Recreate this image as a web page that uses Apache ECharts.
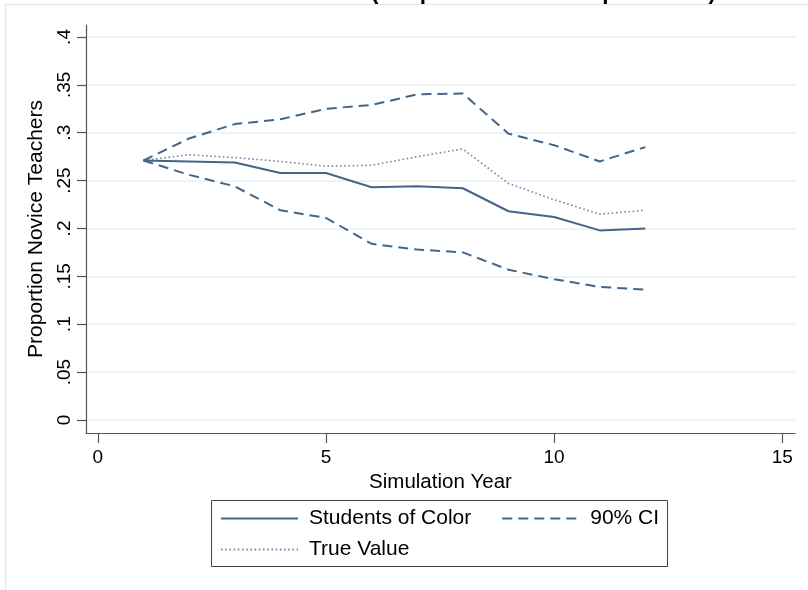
<!DOCTYPE html>
<html>
<head>
<meta charset="utf-8">
<script src="https://cdn.jsdelivr.net/npm/echarts@6/dist/echarts.min.js"></script>
<style>
  html, body { margin: 0; padding: 0; background: #ffffff; }
  #chart { width: 808px; height: 590px; }
</style>
</head>
<body>
<div id="chart"></div>
<script>
// Simulated proportion of novice teachers by simulation year
const years = [1, 2, 3, 4, 5, 6, 7, 8, 9, 10, 11, 12];
const studentsOfColor = [0.271, 0.270, 0.269, 0.258, 0.258, 0.243, 0.244, 0.242, 0.218, 0.212, 0.198, 0.200];
const ciUpper = [0.271, 0.294, 0.309, 0.314, 0.325, 0.329, 0.340, 0.341, 0.299, 0.287, 0.270, 0.285];
const ciLower = [0.271, 0.256, 0.244, 0.219, 0.211, 0.184, 0.178, 0.175, 0.157, 0.147, 0.139, 0.136];
const trueValue = [0.271, 0.277, 0.274, 0.270, 0.265, 0.266, 0.275, 0.283, 0.247, 0.230, 0.215, 0.219];

const yTicks = [0, 0.05, 0.1, 0.15, 0.2, 0.25, 0.3, 0.35, 0.4];
const xTicks = [0, 5, 10, 15];

const FONT = "'Liberation Sans', Arial, sans-serif";
const LINE = '#44658a';
const DOT = '#6f8cab';

const pairs = (ys) => years.map((x, i) => [x, ys[i]]);
// Stata-style numbers: ".35" rather than "0.35"
const stataNum = (v) => (v === 0 ? '0' : String(+v.toFixed(2)).replace(/^0\./, '.'));

const chart = echarts.init(document.getElementById('chart'), null, { renderer: 'canvas' });

const legendText = { fontFamily: FONT, fontSize: 21, color: '#000', padding: [0, 0, 0, 6] };

chart.setOption({
  backgroundColor: '#ffffff',
  animation: false,
  textStyle: { fontFamily: FONT },
  title: {
    text: '(Simple Random Sample Draws)',
    left: 371,
    top: -19,
    padding: 0,
    textStyle: { fontFamily: FONT, fontSize: 22.5, fontWeight: 'bold', color: '#000' }
  },
  graphic: [
    {
      type: 'rect',
      shape: { x: 5.5, y: 4.5, width: 830, height: 620 },
      style: { fill: 'none', stroke: '#e3ebf1', lineWidth: 1.5 },
      silent: true,
      z: -1
    },
    {
      type: 'rect',
      shape: { x: 211.5, y: 500.5, width: 456, height: 66 },
      style: { fill: 'none', stroke: '#444', lineWidth: 1 },
      silent: true
    }
  ],
  grid: { left: 86, right: 13, top: 25, bottom: 157, containLabel: false },
  xAxis: {
    type: 'value',
    min: -0.26,
    max: 15.28,
    name: 'Simulation Year',
    nameLocation: 'middle',
    nameGap: 32,
    nameTextStyle: { fontFamily: FONT, fontSize: 20.5, color: '#000' },
    axisLine: { show: true, onZero: false, lineStyle: { color: '#555', width: 1.2 } },
    axisTick: { show: true, customValues: xTicks, length: 10, lineStyle: { color: '#555', width: 1.2 } },
    axisLabel: { customValues: xTicks, margin: 15, fontFamily: FONT, fontSize: 19, color: '#000' },
    splitLine: { show: false }
  },
  yAxis: {
    type: 'value',
    min: -0.0136,
    max: 0.4125,
    name: 'Proportion Novice Teachers',
    nameLocation: 'middle',
    nameGap: 38,
    nameRotate: 90,
    nameTextStyle: { fontFamily: FONT, fontSize: 21, color: '#000' },
    axisLine: { show: true, onZero: false, lineStyle: { color: '#555', width: 1.2 } },
    axisTick: { show: true, customValues: yTicks, length: 9, lineStyle: { color: '#555', width: 1.2 } },
    axisLabel: {
      customValues: yTicks,
      rotate: 90,
      margin: 12,
      fontFamily: FONT,
      fontSize: 19,
      color: '#000',
      formatter: stataNum
    },
    splitLine: { show: true, lineStyle: { color: '#e8eff3', width: 1.6 } }
  },
  legend: [
    {
      data: ['Students of Color', '90% CI'],
      left: 220,
      top: 508,
      orient: 'horizontal',
      itemWidth: 77,
      itemHeight: 14,
      itemGap: 30,
      padding: 0,
      itemStyle: { opacity: 0 },
      textStyle: legendText
    },
    {
      data: ['True Value'],
      left: 220,
      top: 539,
      orient: 'horizontal',
      itemWidth: 77,
      itemHeight: 14,
      padding: 0,
      itemStyle: { opacity: 0 },
      textStyle: legendText
    }
  ],
  series: [
    {
      name: 'Students of Color',
      type: 'line',
      data: pairs(studentsOfColor),
      symbol: 'none',
      lineStyle: { color: LINE, width: 2, type: 'solid' },
      itemStyle: { color: LINE },
      z: 4
    },
    {
      name: '90% CI',
      type: 'line',
      data: pairs(ciUpper),
      symbol: 'none',
      lineStyle: { color: LINE, width: 2, type: [10, 6] },
      itemStyle: { color: LINE },
      z: 3
    },
    {
      name: '90% CI',
      type: 'line',
      data: pairs(ciLower),
      symbol: 'none',
      lineStyle: { color: LINE, width: 2, type: [10, 6] },
      itemStyle: { color: LINE },
      z: 3
    },
    {
      name: 'True Value',
      type: 'line',
      data: pairs(trueValue),
      symbol: 'none',
      lineStyle: { color: DOT, width: 1.6, type: [1.6, 2.6] },
      itemStyle: { color: DOT },
      z: 2
    }
  ]
});
</script>
</body>
</html>
